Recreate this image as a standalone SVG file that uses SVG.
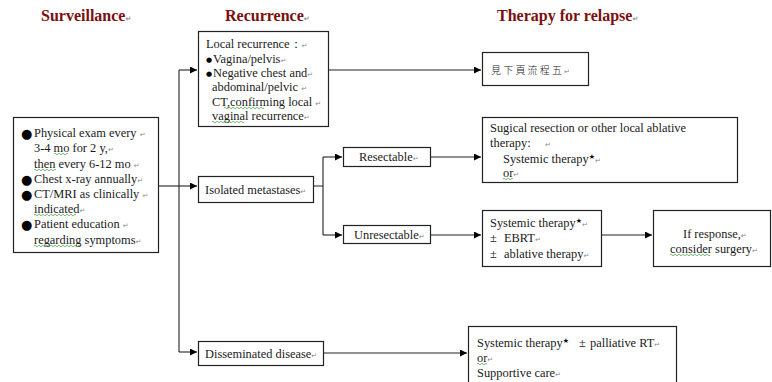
<svg xmlns="http://www.w3.org/2000/svg" width="772" height="382" viewBox="0 0 772 382">
  <defs>
    <marker id="arrow" viewBox="0 0 8 8" refX="8" refY="4" markerWidth="7" markerHeight="7" markerUnits="userSpaceOnUse" orient="auto">
      <path d="M0,0 L8,4 L0,8 z" fill="#000"/>
    </marker>
    <style>
      .box { fill: #fff; stroke: #222; stroke-width: 1.2; }
      .conn { fill: none; stroke: #222; stroke-width: 1.1; }
      .arr { marker-end: url(#arrow); }
      .title { font-family: "Liberation Serif", "Times New Roman", serif; font-weight: bold; font-size: 16px; fill: #7a1010; }
      .t { font-family: "Liberation Serif", "Times New Roman", serif; font-size: 12.4px; fill: #1a1a1a; }
      .cjk { font-family: "Noto Sans CJK TC", "Noto Sans CJK SC", sans-serif; font-size: 10px; font-weight: 300; fill: #1a1a1a; letter-spacing: 2.2px; }
      .pm { font-family: "DejaVu Sans", sans-serif; font-size: 7px; fill: #888; }
      .big { font-family: "DejaVu Sans", sans-serif; font-size: 13px; fill: #000; }
      .sm { font-family: "DejaVu Sans", sans-serif; font-size: 7px; fill: #000; }
      .star { font-family: "DejaVu Sans", sans-serif; font-size: 7px; fill: #000; }
      .sq { fill: none; stroke: #3a9a3a; stroke-width: 0.7; }
    </style>
  </defs>

  <rect width="772" height="382" fill="#fff"/>

  <!-- column headings -->
  <text class="title" x="41" y="21">Surveillance<tspan class="pm">↵</tspan></text>
  <text class="title" x="225" y="21">Recurrence<tspan class="pm">↵</tspan></text>
  <text class="title" x="497" y="21">Therapy for relapse<tspan class="pm">↵</tspan></text>

  <!-- connectors -->
  <g id="connectors">
    <path class="conn" d="M158,186 H179"/>
    <path class="conn" d="M179,70 V352"/>
    <path class="conn arr" d="M179,70 H197"/>
    <path class="conn arr" d="M179,186 H197"/>
    <path class="conn arr" d="M179,352 H197"/>
    <path class="conn arr" d="M329,70 H481"/>
    <path class="conn" d="M314,186 H323 M323,157 V235"/>
    <path class="conn arr" d="M323,157 H342"/>
    <path class="conn arr" d="M323,235 H342"/>
    <path class="conn arr" d="M431,157 H481"/>
    <path class="conn arr" d="M431,235 H481"/>
    <path class="conn arr" d="M602,235 H652"/>
    <path class="conn arr" d="M324,353 H467"/>
  </g>

  <!-- surveillance -->
  <g id="surveillance">
    <rect class="box" x="13.5" y="117.5" width="145" height="135"/>
    <text class="big" x="21" y="138">●</text>
    <text class="t" x="34" y="137">Physical exam every <tspan class="pm">↵</tspan></text>
    <text class="t" x="34" y="152">3-4 mo for 2 y,<tspan class="pm">↵</tspan></text>
    <text class="t" x="34" y="168">then every 6-12 mo <tspan class="pm">↵</tspan></text>
    <text class="big" x="21" y="184">●</text>
    <text class="t" x="34" y="183">Chest x-ray annually<tspan class="pm">↵</tspan></text>
    <text class="big" x="21" y="199">●</text>
    <text class="t" x="34" y="198">CT/MRI as clinically <tspan class="pm">↵</tspan></text>
    <text class="t" x="34" y="213">indicated<tspan class="pm">↵</tspan></text>
    <text class="big" x="21" y="229">●</text>
    <text class="t" x="34" y="228">Patient education <tspan class="pm">↵</tspan></text>
    <text class="t" x="34" y="244">regarding symptoms<tspan class="pm">↵</tspan></text>
    <path class="sq" d="M54,154 q1,-1.5 2,0 t2,0 t2,0 t2,0 t2,0 t2,0 t2,0 M34,170 q1,-1.5 2,0 t2,0 t2,0 t2,0 t2,0 t2,0 t2,0 t2,0 t2,0 t2,0 t2,0 M34,215 q1,-1.5 2,0 t2,0 t2,0 t2,0 t2,0 t2,0 t2,0 t2,0 t2,0 t2,0 t2,0 t2,0 t2,0 t2,0 t2,0 t2,0 t2,0 t2,0 t2,0 t2,0 t2,0 M34,246 q1,-1.5 2,0 t2,0 t2,0 t2,0 t2,0 t2,0 t2,0 t2,0 t2,0 t2,0 t2,0 t2,0 t2,0 t2,0 t2,0 t2,0 t2,0 t2,0 t2,0 t2,0 t2,0 t2,0 t2,0"/>
  </g>

  <!-- recurrence -->
  <g id="local-recurrence">
    <rect class="box" x="198.5" y="31.5" width="130" height="95"/>
    <text class="t" x="206" y="48">Local recurrence：<tspan class="pm">↵</tspan></text>
    <text class="sm" x="206" y="62">●</text>
    <text class="t" x="213" y="63">Vagina/pelvis<tspan class="pm">↵</tspan></text>
    <text class="sm" x="206" y="76">●</text>
    <text class="t" x="213" y="77">Negative chest and<tspan class="pm">↵</tspan></text>
    <text class="t" x="212" y="91">abdominal/pelvic <tspan class="pm">↵</tspan></text>
    <text class="t" x="212" y="106">CT,confirming local <tspan class="pm">↵</tspan></text>
    <text class="t" x="212" y="120">vaginal recurrence<tspan class="pm">↵</tspan></text>
    <path class="sq" d="M224,108 q1,-1.5 2,0 t2,0 t2,0 t2,0 t2,0 t2,0 t2,0 t2,0 t2,0 t2,0 t2,0 t2,0 t2,0 t2,0 t2,0 t2,0 t2,0 t2,0 t2,0 t2,0 M212,122 q1,-1.5 2,0 t2,0 t2,0 t2,0 t2,0 t2,0 t2,0 t2,0 t2,0 t2,0 t2,0 t2,0 t2,0 t2,0 t2,0 t2,0"/>
  </g>

  <g id="isolated-metastases">
    <rect class="box" x="198.5" y="176.5" width="115" height="26"/>
    <text class="t" x="205" y="194">Isolated metastases<tspan class="pm">↵</tspan></text>
  </g>

  <g id="resectable">
    <rect class="box" x="343.5" y="147.5" width="87" height="19"/>
    <text class="t" x="359" y="161">Resectable<tspan class="pm">↵</tspan></text>
  </g>

  <g id="unresectable">
    <rect class="box" x="343.5" y="225.5" width="87" height="18"/>
    <text class="t" x="354" y="239">Unresectable<tspan class="pm">↵</tspan></text>
  </g>

  <g id="disseminated-disease">
    <rect class="box" x="198.5" y="341.5" width="125" height="24"/>
    <text class="t" x="205" y="358">Disseminated disease<tspan class="pm">↵</tspan></text>
  </g>

  <!-- therapy for relapse -->
  <g id="see-next-page">
    <rect class="box" x="482.5" y="52.5" width="106" height="33"/>
    <text class="cjk" x="491" y="74">見下頁流程五<tspan class="pm" letter-spacing="0">↵</tspan></text>
  </g>

  <g id="local-therapy">
    <rect class="box" x="482.5" y="117.5" width="255" height="65"/>
    <text class="t" x="490" y="132" textLength="196">Sugical resection or other local ablative</text>
    <text class="t" x="490" y="147">therapy:<tspan class="pm" x="545">↵</tspan></text>
    <text class="t" x="503" y="163">Systemic therapy<tspan class="star" dy="-4">★</tspan><tspan class="pm" dy="4">↵</tspan></text>
    <text class="t" x="503" y="177">or<tspan class="pm">↵</tspan></text>
    <path class="sq" d="M503,179 q1,-1.5 2,0 t2,0 t2,0 t2,0 t2,0"/>
  </g>

  <g id="systemic-ebrt">
    <rect class="box" x="482.5" y="210.5" width="119" height="56"/>
    <text class="t" x="490" y="227">Systemic therapy<tspan class="star" dy="-4">★</tspan><tspan class="pm" dy="4">↵</tspan></text>
    <text class="t" x="490" y="242">±<tspan x="504">EBRT</tspan><tspan class="pm">↵</tspan></text>
    <text class="t" x="490" y="258">±<tspan x="504">ablative therapy</tspan><tspan class="pm">↵</tspan></text>
  </g>

  <g id="consider-surgery">
    <rect class="box" x="653.5" y="210.5" width="117" height="56"/>
    <text class="t" x="683" y="238">If response,<tspan class="pm">↵</tspan></text>
    <text class="t" x="670" y="253">consider surgery<tspan class="pm">↵</tspan></text>
    <path class="sq" d="M670,255 q1,-1.5 2,0 t2,0 t2,0 t2,0 t2,0 t2,0 t2,0 t2,0 t2,0 t2,0 t2,0 t2,0 t2,0 t2,0 t2,0 t2,0 t2,0 t2,0 t2,0 t2,0"/>
  </g>

  <g id="palliative">
    <rect class="box" x="468.5" y="326.5" width="208" height="70"/>
    <text class="t" x="477" y="347">Systemic therapy<tspan class="star" dy="-4">★</tspan><tspan x="579" dy="4">±</tspan><tspan x="590">palliative RT</tspan><tspan class="pm">↵</tspan></text>
    <text class="t" x="477" y="362">or<tspan class="pm">↵</tspan></text>
    <text class="t" x="477" y="377">Supportive care<tspan class="pm">↵</tspan></text>
    <path class="sq" d="M477,364 q1,-1.5 2,0 t2,0 t2,0 t2,0 t2,0"/>
  </g>
</svg>
